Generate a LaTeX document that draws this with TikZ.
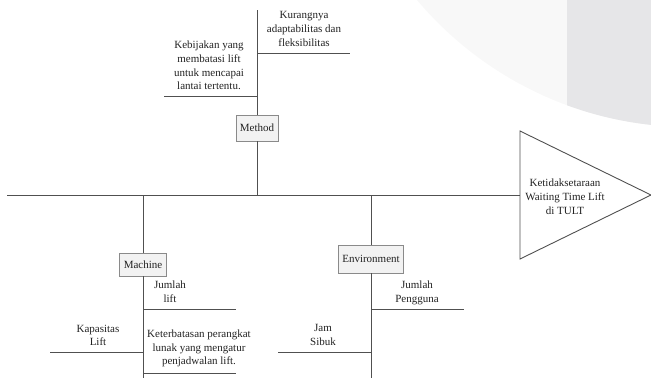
\documentclass[tikz,border=0pt]{standalone}
\usepackage{fontspec}
\setmainfont{Liberation Serif}
\definecolor{linecol}{HTML}{505050}
\definecolor{txtcol}{HTML}{222222}
\definecolor{boxfill}{HTML}{F2F2F2}
\definecolor{boxdraw}{HTML}{8A8A8A}
\definecolor{blobA}{HTML}{F8F8F8}
\definecolor{blobB}{HTML}{E6E6E8}
\tikzset{
  bone/.style={draw=linecol, line width=0.9pt},
  catbox/.style={draw=boxdraw, fill=boxfill, line width=0.7pt, text=txtcol,
    font=\fontsize{11}{13.8}\selectfont, inner xsep=4pt, inner ysep=0pt, minimum height=24pt},
  cause/.style={align=center, text=txtcol, font=\fontsize{11}{13.8}\selectfont, inner sep=0pt},
}
\begin{document}
\begin{tikzpicture}[x=1pt,y=-1pt]
\useasboundingbox (0,0) rectangle (651,378);
% background blob (top right)
\begin{scope}
  \clip (0,0) rectangle (651,378);
  \clip (690,-230) circle (357);
  \fill[blobA] (380,0) rectangle (651,140);
  \fill[blobB] (567,0) rectangle (651,140);
\end{scope}
% coordinates
\coordinate (tail) at (7,195);
\coordinate (head) at (520,195);
\coordinate (tritop) at (520,131);
\coordinate (tribot) at (520,259);
\coordinate (apex) at (651,195);
% spine and head
\draw[bone] (tail) -- (head);
\draw[bone, line join=miter] (tritop) -- (apex) -- (tribot) -- cycle;
\node[cause] (effect) at (565,197) {Ketidaksetaraan\\Waiting Time Lift\\di TULT};
% Method branch
\coordinate (mtop) at (257,10);
\coordinate (mspine) at (257,195);
\node[catbox, minimum height=26pt] (method) at (257,128) {Method};
\draw[bone] (mtop) -- (method.north);
\draw[bone] (method.south) -- (mspine);
\coordinate (m1a) at (257,53); \coordinate (m1b) at (350,53);
\draw[bone] (m1a) -- (m1b);
\node[cause] (kurang) at (304,29) {Kurangnya\\adaptabilitas dan\\fleksibilitas};
\coordinate (m2a) at (164,96); \coordinate (m2b) at (257,96);
\draw[bone] (m2a) -- (m2b);
\node[cause] (kebijakan) at (209,65.5) {Kebijakan yang\\membatasi lift\\untuk mencapai\\lantai tertentu.};
% Machine branch
\coordinate (maspine) at (143,195);
\coordinate (mabot) at (143,378);
\node[catbox, minimum height=23pt] (machine) at (143,264.5) {Machine};
\draw[bone] (maspine) -- (machine.north);
\draw[bone] (machine.south) -- (mabot);
\coordinate (ma1a) at (143,309); \coordinate (ma1b) at (236,309);
\draw[bone] (ma1a) -- (ma1b);
\node[cause] (jumlahlift) at (170,292) {Jumlah\\lift};
\coordinate (ma2a) at (50,352); \coordinate (ma2b) at (143,352);
\draw[bone] (ma2a) -- (ma2b);
\node[cause] (kapasitas) at (98,335.5) {Kapasitas\\Lift};
\coordinate (ma3a) at (143,373); \coordinate (ma3b) at (236,373);
\draw[bone] (ma3a) -- (ma3b);
\node[cause] (keterbatasan) at (199,348.5) {Keterbatasan perangkat\\lunak yang mengatur\\penjadwalan lift.};
% Environment branch
\coordinate (espine) at (371,195);
\coordinate (ebot) at (371,378);
\node[catbox, minimum height=28pt] (env) at (371,259) {Environment};
\draw[bone] (espine) -- (env.north);
\draw[bone] (env.south) -- (ebot);
\coordinate (e1a) at (371,309); \coordinate (e1b) at (464,309);
\draw[bone] (e1a) -- (e1b);
\node[cause] (pengguna) at (417,292.5) {Jumlah\\Pengguna};
\coordinate (e2a) at (278,352); \coordinate (e2b) at (371,352);
\draw[bone] (e2a) -- (e2b);
\node[cause] (jam) at (323,335) {Jam\\Sibuk};
\end{tikzpicture}
\end{document}
